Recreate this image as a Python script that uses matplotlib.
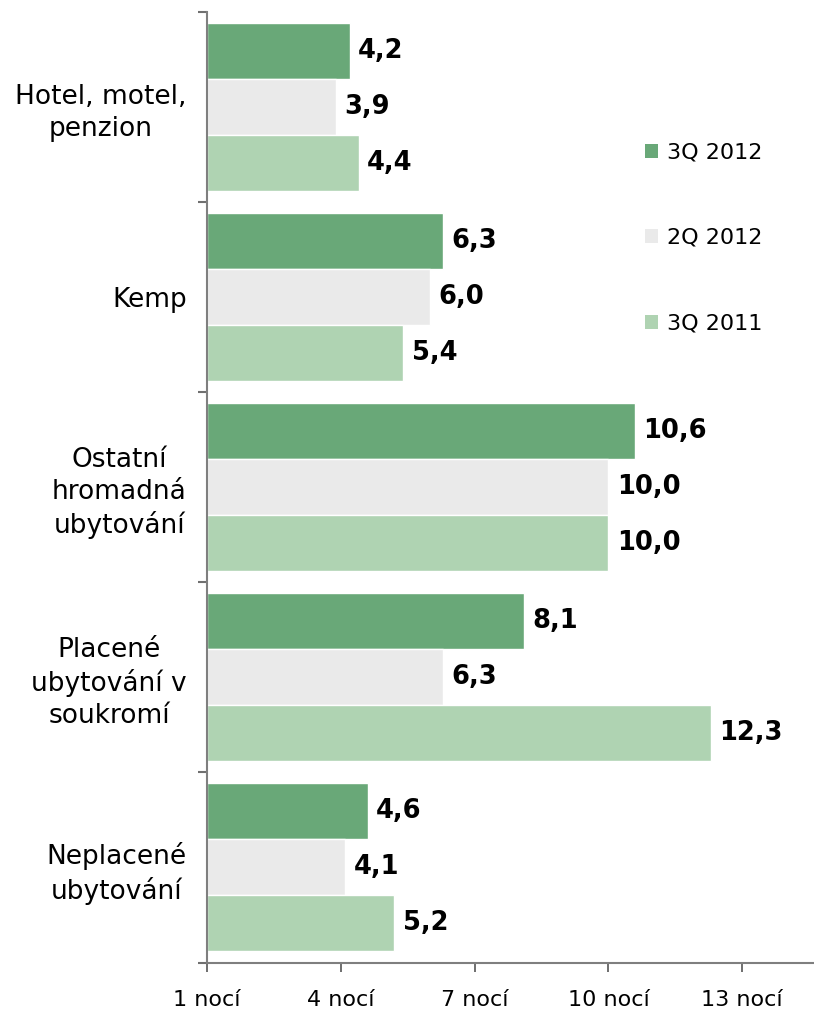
import matplotlib
matplotlib.use("Agg")
import matplotlib.pyplot as plt
import numpy as np
from matplotlib.patches import Patch

categories = ["Hotel, motel,\npenzion", "Kemp", "Ostatní\nhromadná\nubytování",
              "Placené\nubytování v\nsoukromí", "Neplacené\nubytování"]
series_names = ["3Q 2012", "2Q 2012", "3Q 2011"]
values_3q2012 = [4.2, 6.3, 10.6, 8.1, 4.6]
values_2q2012 = [3.9, 6.0, 10.0, 6.3, 4.1]
values_3q2011 = [4.4, 5.4, 10.0, 12.3, 5.2]
xtick_values = [1, 4, 7, 10, 13]
xtick_labels = ["1 nocí", "4 nocí", "7 nocí", "10 nocí", "13 nocí"]

colors = ["#69A878", "#EAEAEA", "#AFD3B2"]
series = [values_3q2012, values_2q2012, values_3q2011]

plt.rcParams['font.family'] = ['DejaVu Sans']

fig = plt.figure(figsize=(8.14, 10.10), dpi=100)
ax = fig.add_axes([207 / 814, 1 - 962.5 / 1010, 1 - 207 / 814, (962.5 - 12) / 1010])

slot = 56 / 190
base = 1.0
y = np.arange(len(categories))
for j, (vals, col) in enumerate(zip(series, colors)):
    pos = y + (j - 1) * slot
    widths = [v - base for v in vals]
    ax.barh(pos, widths, left=base, height=slot, color=col, edgecolor="white",
            linewidth=1.0, zorder=2)
    for p, v in zip(pos, vals):
        ax.annotate(f"{v:.1f}".replace(".", ","), xy=(v, p), xytext=(6, 0),
                    textcoords="offset points", va="center", ha="left",
                    fontsize=18.5, fontweight="bold", color="black")

ax.set_xlim(1, 1 + (814 - 207) / 44.6)
ax.set_ylim(len(categories) - 0.5, -0.5)

ax.set_xticks(xtick_values)
ax.set_xticklabels(xtick_labels, fontsize=16)
ax.tick_params(axis="x", length=6.5, width=1.2, color="#555555", pad=13.5)

ax.set_yticks(y)
ax.set_yticklabels(categories, fontsize=19)
for t in ax.get_yticklabels():
    t.set_multialignment("center")
    t.set_linespacing(1.28)
ax.tick_params(axis="y", which="major", length=0, pad=14.5)
ax.set_yticks(np.arange(-0.5, len(categories) + 0.5, 1), minor=True)
ax.tick_params(axis="y", which="minor", length=6.5, width=1.5, color="#707070")

for s in ["top", "right"]:
    ax.spines[s].set_visible(False)
ax.spines["left"].set_color("#7F7F7F")
ax.spines["left"].set_linewidth(1.5)
ax.spines["bottom"].set_color("#7F7F7F")
ax.spines["bottom"].set_linewidth(1.5)

handles = [Patch(facecolor=c, edgecolor="none") for c in colors]
fig.legend(handles, series_names, loc="center left",
           bbox_to_anchor=(645 / 814, 1 - 238 / 1010), bbox_transform=fig.transFigure,
           frameon=False, fontsize=16, handlelength=0.6, handleheight=0.6,
           handletextpad=0.4, labelspacing=2.95, borderpad=0, borderaxespad=0)

fig.savefig("out.png", dpi=100)
